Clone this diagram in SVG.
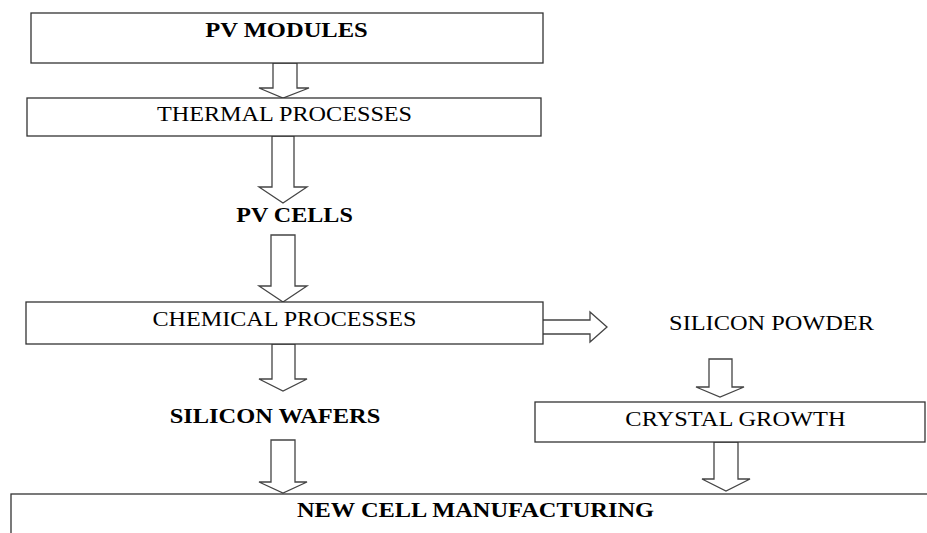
<svg xmlns="http://www.w3.org/2000/svg" width="927" height="533" viewBox="0 0 927 533">
<style>
.box{fill:#fff;stroke:#333;stroke-width:1.3}
.arr{fill:#fff;stroke:#444;stroke-width:1.3;stroke-linejoin:miter}
.t{font-family:"Liberation Serif","Times New Roman",serif;font-size:22px;fill:#000;text-anchor:middle}
.b{font-weight:bold}
</style>
<rect width="927" height="533" fill="#fff"/>
<g id="connectors">
<polygon class="arr" points="273,63 297,63 297,88 309,88 283,98 259,88 273,88"/>
<polygon class="arr" points="272,136 294,136 294,187 307,187 283,203 259,187 272,187"/>
<polygon class="arr" points="271,235 295,235 295,286 307,286 283,302 259,286 271,286"/>
<polygon class="arr" points="272,344 295,344 295,379 307,379 283,391 259,379 272,379"/>
<polygon class="arr" points="541,320 590,320 590,312 607,327 590,342 590,334 541,334"/>
<polygon class="arr" points="709,359 732,359 732,387 744,387 720,397 696,387 709,387"/>
<polygon class="arr" points="271,440 295,440 295,482 307,482 283,493 259,482 271,482"/>
<polygon class="arr" points="714,442 738,442 738,479 750,479 726,491 702,479 714,479"/>
</g>
<g id="pv-modules">
<rect class="box" x="31" y="13" width="512" height="50"/>
<text class="t b" transform="translate(286.5,37) scale(1.116,1)">PV MODULES</text>
</g>
<g id="thermal-processes">
<rect class="box" x="27" y="98" width="514" height="38"/>
<text class="t" transform="translate(284.5,121) scale(1.1,1)">THERMAL PROCESSES</text>
</g>
<g id="pv-cells">
<text class="t b" transform="translate(294.5,222) scale(1.094,1)">PV CELLS</text>
</g>
<g id="chemical-processes">
<rect class="box" x="26" y="302" width="517" height="42"/>
<text class="t" transform="translate(284.5,326) scale(1.098,1)">CHEMICAL PROCESSES</text>
</g>
<g id="silicon-powder">
<text class="t" transform="translate(771.5,330) scale(1.107,1)">SILICON POWDER</text>
</g>
<g id="silicon-wafers">
<text class="t b" transform="translate(275,423) scale(1.11,1)">SILICON WAFERS</text>
</g>
<g id="crystal-growth">
<rect class="box" x="535" y="402" width="390" height="40"/>
<text class="t" transform="translate(735.5,426) scale(1.11,1)">CRYSTAL GROWTH</text>
</g>
<g id="new-cell-manufacturing">
<rect class="box" x="11" y="494" width="930" height="60"/>
<text class="t b" transform="translate(475.5,517) scale(1.11,1)">NEW CELL MANUFACTURING</text>
</g>
</svg>
